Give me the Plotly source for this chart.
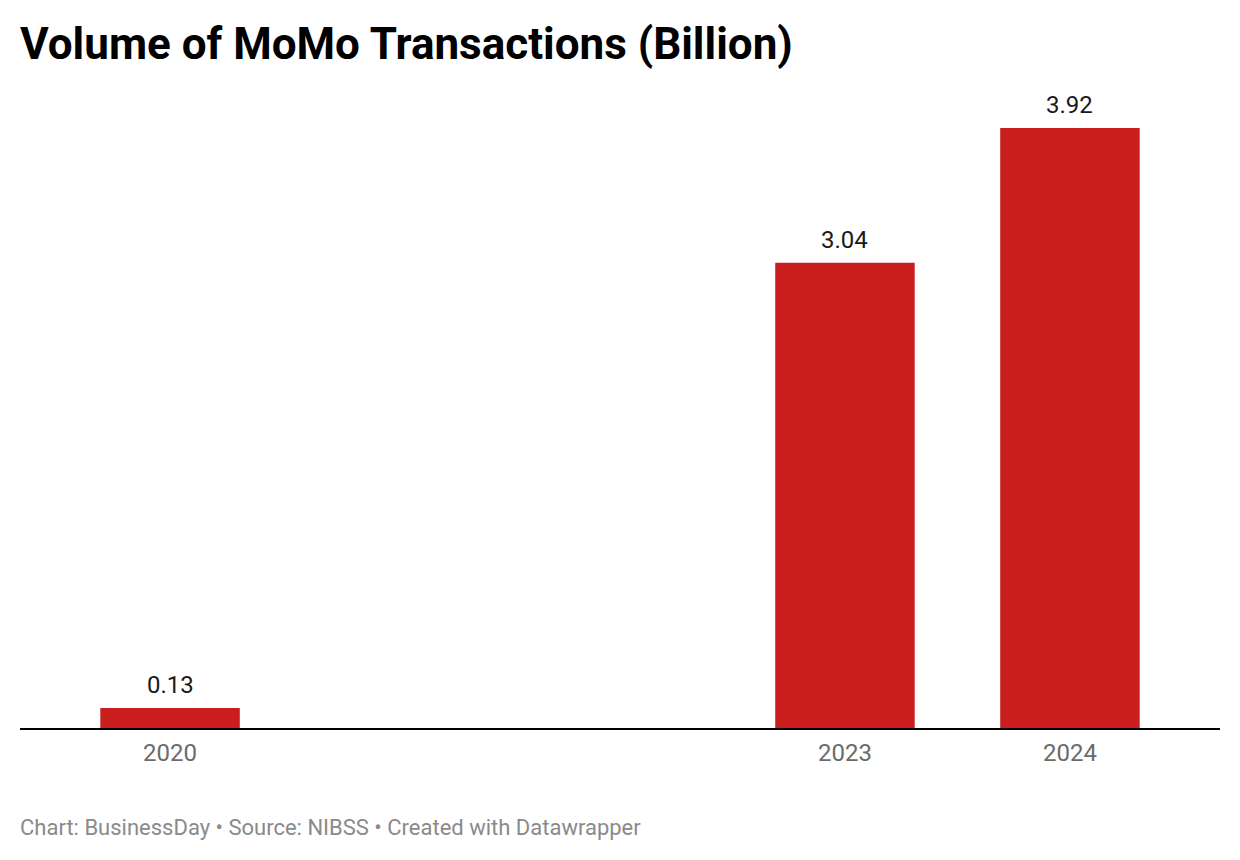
import plotly.graph_objects as go

# data
years = [2020, 2023, 2024]
volumes = [0.13, 3.04, 3.92]
year_labels = ["2020", "2023", "2024"]
value_labels = ["0.13", "3.04", "3.92"]

bar_red = "#c91d1e"

fig = go.Figure()
fig.add_trace(go.Bar(
    x=years,
    y=volumes,
    width=0.62,
    marker_color=bar_red,
    marker_line_width=0,
    hoverinfo="skip",
))

# value labels above each bar
for yr, v, lab in zip(years, volumes, value_labels):
    fig.add_annotation(
        x=yr, y=v, text=lab, showarrow=False,
        yanchor="bottom", yshift=7,
        font=dict(family="Roboto", size=24, color="#1a1a1a"),
    )

# footer line
fig.add_annotation(
    xref="paper", yref="paper", x=0, y=-0.158, xshift=-2,
    xanchor="left", yanchor="middle", showarrow=False,
    text="Chart: BusinessDay • Source: NIBSS • Created with Datawrapper",
    font=dict(family="Roboto", size=22, color="#8a8a8a"),
)

# page body adds an 8px offset, margins account for it
fig.update_layout(
    width=1240, height=860,
    margin=dict(l=12, r=28, t=92, b=140),
    paper_bgcolor="white", plot_bgcolor="white",
    showlegend=False,
    font=dict(family="Roboto"),
    title=dict(
        text="<b>Volume of MoMo Transactions (Billion)</b>",
        x=12 / 1240, xanchor="left", xref="container",
        y=1 - 36 / 860, yanchor="middle", yref="container",
        font=dict(family="Roboto", size=44, color="#000000"),
    ),
    xaxis=dict(
        range=[2019.333, 2024.667],
        tickvals=years, ticktext=year_labels,
        showgrid=False, zeroline=False,
        showline=True, linecolor="#000000", linewidth=2,
        ticks="outside", ticklen=2, tickcolor="rgba(0,0,0,0)",
        tickfont=dict(family="Roboto", size=24, color="#6b6b6b"),
    ),
    yaxis=dict(
        range=[0, 4.103],
        visible=False, showgrid=False, zeroline=False,
    ),
)

fig.write_html("out.html")
